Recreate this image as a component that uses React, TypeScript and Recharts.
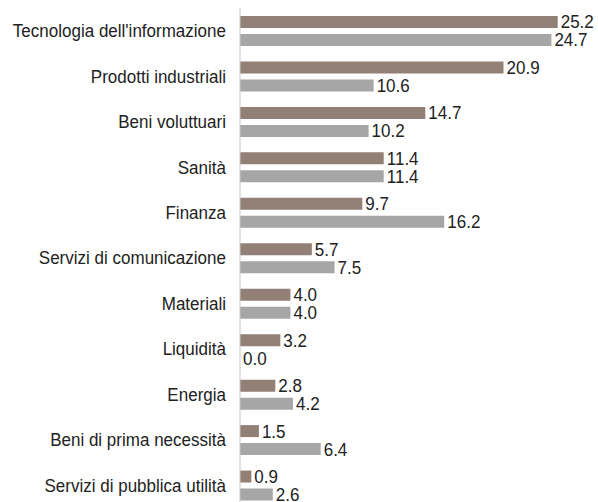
import React from 'react';
import { BarChart, Bar, XAxis, YAxis, LabelList } from 'recharts';

const categories = [
  'Tecnologia dell\'informazione',
  'Prodotti industriali',
  'Beni voluttuari',
  'Sanità',
  'Finanza',
  'Servizi di comunicazione',
  'Materiali',
  'Liquidità',
  'Energia',
  'Beni di prima necessità',
  'Servizi di pubblica utilità',
];
const seriesA = [25.2, 20.9, 14.7, 11.4, 9.7, 5.7, 4.0, 3.2, 2.8, 1.5, 0.9];
const seriesB = [24.7, 10.6, 10.2, 11.4, 16.2, 7.5, 4.0, 0.0, 4.2, 6.4, 2.6];

const data = categories.map((name, i) => ({ name, a: seriesA[i], b: seriesB[i] }));

const FONT = '"Liberation Sans", Arial, sans-serif';
const SIZE = 18.5;
const SQUEEZE = 0.92; // fake a condensed face

// category labels, squeezed horizontally
const CatTick = (props: any) => {
  const { x, y, payload } = props;
  return (
    <g transform={`translate(${x},${y}) scale(${SQUEEZE},1)`}>
      <text x={0} y={0} dy="0.35em" textAnchor="end" fill="#222" fontSize={SIZE} fontFamily={FONT}>
        {payload.value}
      </text>
    </g>
  );
};

// value labels to the right of each bar
const ValueLabel = (props: any) => {
  const { x, y, width, height, value } = props;
  const lx = Number(x) + Number(width || 0) + 3;
  const ly = Number(y) + Number(height) / 2;
  return (
    <g transform={`translate(${lx},${ly}) scale(${SQUEEZE},1)`}>
      <text x={0} y={0} dy="0.35em" textAnchor="start" fill="#222" fontSize={SIZE} fontFamily={FONT}>
        {Number(value).toFixed(1)}
      </text>
    </g>
  );
};

// zero values still need a (invisible) rect so their label gets drawn
const tinyForZero = (v: any) => (Number(v) === 0 ? 0.01 : 0);

export default function App() {
  return (
    <div style={{ position: 'absolute', left: 0, top: 0, width: 598, height: 502, overflow: 'hidden', background: '#fff' }}>
      <BarChart
        width={598}
        height={508}
        data={data}
        layout="vertical"
        margin={{ top: 8, right: 5, bottom: 0, left: 0 }}
        barCategoryGap={15}
        barGap={6}
      >
        <XAxis type="number" domain={[0, 28]} hide />
        <YAxis
          type="category"
          dataKey="name"
          width={240}
          tickLine={false}
          tickSize={0}
          tickMargin={14}
          axisLine={{ stroke: '#c8c8c8', strokeWidth: 1 }}
          tick={<CatTick />}
          interval={0}
        />
        <Bar dataKey="a" fill="#928076" barSize={12} minPointSize={tinyForZero} isAnimationActive={false}>
          <LabelList dataKey="a" content={<ValueLabel />} />
        </Bar>
        <Bar dataKey="b" fill="#a6a6a6" barSize={12} minPointSize={tinyForZero} isAnimationActive={false}>
          <LabelList dataKey="b" content={<ValueLabel />} />
        </Bar>
      </BarChart>
    </div>
  );
}
